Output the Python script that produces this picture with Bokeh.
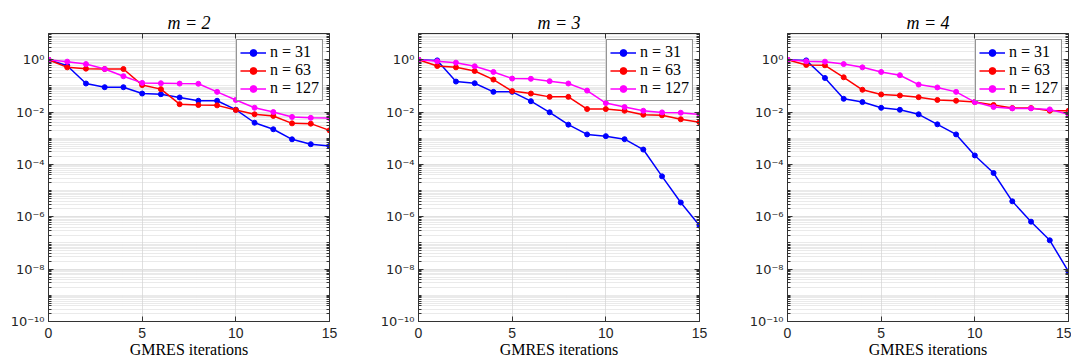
from bokeh.plotting import figure
from bokeh.models import (FixedTicker, LogAxis, LinearAxis, Legend, LegendItem, Range1d, Title)
from bokeh.layouts import row
from bokeh.embed import file_html
from bokeh.resources import INLINE

iterations = list(range(16))
series_labels = ["n = 31", "n = 63", "n = 127"]
series_colors = ["#0000FF", "#FF0000", "#FF00FF"]
m_values = [2, 3, 4]

m2_n31 = [1.0, 0.59, 0.123, 0.089, 0.089, 0.051, 0.048, 0.036, 0.027, 0.027, 0.0123, 0.0039, 0.0022, 0.00091, 0.00059, 0.00051]
m2_n63 = [1.0, 0.51, 0.455, 0.44, 0.44, 0.107, 0.075, 0.020, 0.0185, 0.018, 0.012, 0.0082, 0.0071, 0.0037, 0.0036, 0.0020]
m2_n127 = [1.0, 0.84, 0.68, 0.44, 0.233, 0.13, 0.126, 0.122, 0.12, 0.059, 0.029, 0.0146, 0.010, 0.0065, 0.006, 0.0059]

m3_n31 = [1.0, 0.94, 0.146, 0.126, 0.059, 0.059, 0.026, 0.0098, 0.0033, 0.0014, 0.0012, 0.00092, 0.00037, 3.5e-5, 3.5e-6, 4.6e-7]
m3_n63 = [1.0, 0.575, 0.51, 0.37, 0.174, 0.063, 0.051, 0.038, 0.038, 0.013, 0.013, 0.0112, 0.0079, 0.0075, 0.0053, 0.0041]
m3_n127 = [1.0, 0.865, 0.77, 0.56, 0.34, 0.19, 0.186, 0.151, 0.123, 0.066, 0.022, 0.0155, 0.0112, 0.0097, 0.0094, 0.0081]

m4_n31 = [1.0, 0.94, 0.2, 0.032, 0.024, 0.0145, 0.0122, 0.0082, 0.0034, 0.0014, 2.2e-4, 4.7e-5, 3.9e-6, 6.5e-7, 1.26e-7, 8.1e-9]
m4_n63 = [1.0, 0.63, 0.61, 0.213, 0.071, 0.047, 0.043, 0.037, 0.029, 0.027, 0.024, 0.0186, 0.0142, 0.0142, 0.0112, 0.0112]
m4_n127 = [1.0, 0.865, 0.84, 0.68, 0.51, 0.34, 0.255, 0.112, 0.087, 0.059, 0.024, 0.0155, 0.0138, 0.0138, 0.0126, 0.0083]

panels = [
    (2, [m2_n31, m2_n63, m2_n127]),
    (3, [m3_n31, m3_n63, m3_n127]),
    (4, [m4_n31, m4_n63, m4_n127]),
]

y_tick_values = [1e-10, 1e-8, 1e-6, 1e-4, 1e-2, 1e0]
y_tick_labels = ["10\u207b\u00b9\u2070", "10\u207b\u2078", "10\u207b\u2076", "10\u207b\u2074", "10\u207b\u00b2", "10\u2070"]
y_minor_values = [k * 10.0 ** d for d in range(-10, 1) for k in range(1, 10)] + [10.0]
x_tick_values = [0, 5, 10, 15]
x_label = "GMRES iterations"

AX = "#333333"
SERIF = "Liberation Serif"


def make_fig(m, series, width, left, right):
    p = figure(width=width, height=360, x_range=Range1d(0, 15), y_range=Range1d(1e-10, 10),
               y_axis_type="log", output_backend="svg", toolbar_location=None,
               min_border_left=left, min_border_right=right, min_border_top=33, min_border_bottom=0)
    p.outline_line_color = None
    p.background_fill_color = "white"
    p.border_fill_color = "white"

    p.title = Title(text="m = " + str(m), align="center", text_font=SERIF,
                    text_font_style="italic", text_font_size="18px", text_color="#000000",
                    standoff=1)

    yt = FixedTicker(ticks=y_tick_values, minor_ticks=y_minor_values)
    xt = FixedTicker(ticks=x_tick_values, minor_ticks=[])

    ya = p.yaxis[0]
    ya.ticker = yt
    ya.major_label_overrides = dict(zip(y_tick_values, y_tick_labels))
    ya.major_label_text_font = "DejaVu Sans"
    ya.major_label_text_font_size = "13px"
    ya.major_label_text_color = "#262626"
    ya.major_label_standoff = 4

    xa = p.xaxis[0]
    xa.ticker = xt
    xa.major_label_text_font = "Liberation Sans"
    xa.major_label_text_font_size = "14px"
    xa.major_label_text_color = "#262626"
    xa.major_label_standoff = 6
    xa.axis_label = x_label
    xa.axis_label_text_font = SERIF
    xa.axis_label_text_font_style = "normal"
    xa.axis_label_text_font_size = "16px"
    xa.axis_label_text_color = "#000000"
    xa.axis_label_standoff = 0

    ra = LogAxis(ticker=yt, major_label_overrides={v: "" for v in y_tick_values})
    ta = LinearAxis(ticker=xt, major_label_overrides={v: "" for v in x_tick_values})
    p.add_layout(ra, "right")
    p.add_layout(ta, "above")

    for ax in [xa, ya, ra, ta]:
        ax.axis_line_color = AX
        ax.axis_line_width = 1
        ax.major_tick_line_color = AX
        ax.minor_tick_line_color = AX
        ax.major_tick_in = 5
        ax.major_tick_out = 0
        ax.minor_tick_in = 3
        ax.minor_tick_out = 0
    for ax in [ra, ta]:
        ax.major_label_standoff = 0
        ax.major_label_text_font_size = "1px"

    p.xgrid.ticker = xt
    p.ygrid.ticker = yt
    p.xgrid.grid_line_color = "#e0e0e0"
    p.ygrid.grid_line_color = "#e0e0e0"
    p.ygrid.minor_grid_line_color = "#d4d4d4"
    p.ygrid.minor_grid_line_dash = "1 1"
    p.ygrid.minor_grid_line_width = 1

    items = []
    for data, lbl, col in zip(series, series_labels, series_colors):
        lr = p.line(iterations, data, line_color=col, line_width=1.5)
        sr = p.scatter(iterations, data, size=5, fill_color=col, line_color=col)
        items.append(LegendItem(label=lbl, renderers=[lr, sr]))

    lg = Legend(items=items, location="top_right", margin=6, padding=3, spacing=0,
                glyph_width=26, glyph_height=17, label_height=17, label_standoff=4,
                label_text_font=SERIF, label_text_font_size="16px", label_text_color="#000000",
                border_line_color="#262626", border_line_width=1, background_fill_alpha=1.0)
    p.add_layout(lg)
    return p


figs = [
    make_fig(panels[0][0], panels[0][1], 370, 48, 41),
    make_fig(panels[1][0], panels[1][1], 369, 48, 40),
    make_fig(panels[2][0], panels[2][1], 332, 48, 3),
]
layout = row(*figs, spacing=0)
open("out.html", "w").write(file_html(layout, INLINE))
